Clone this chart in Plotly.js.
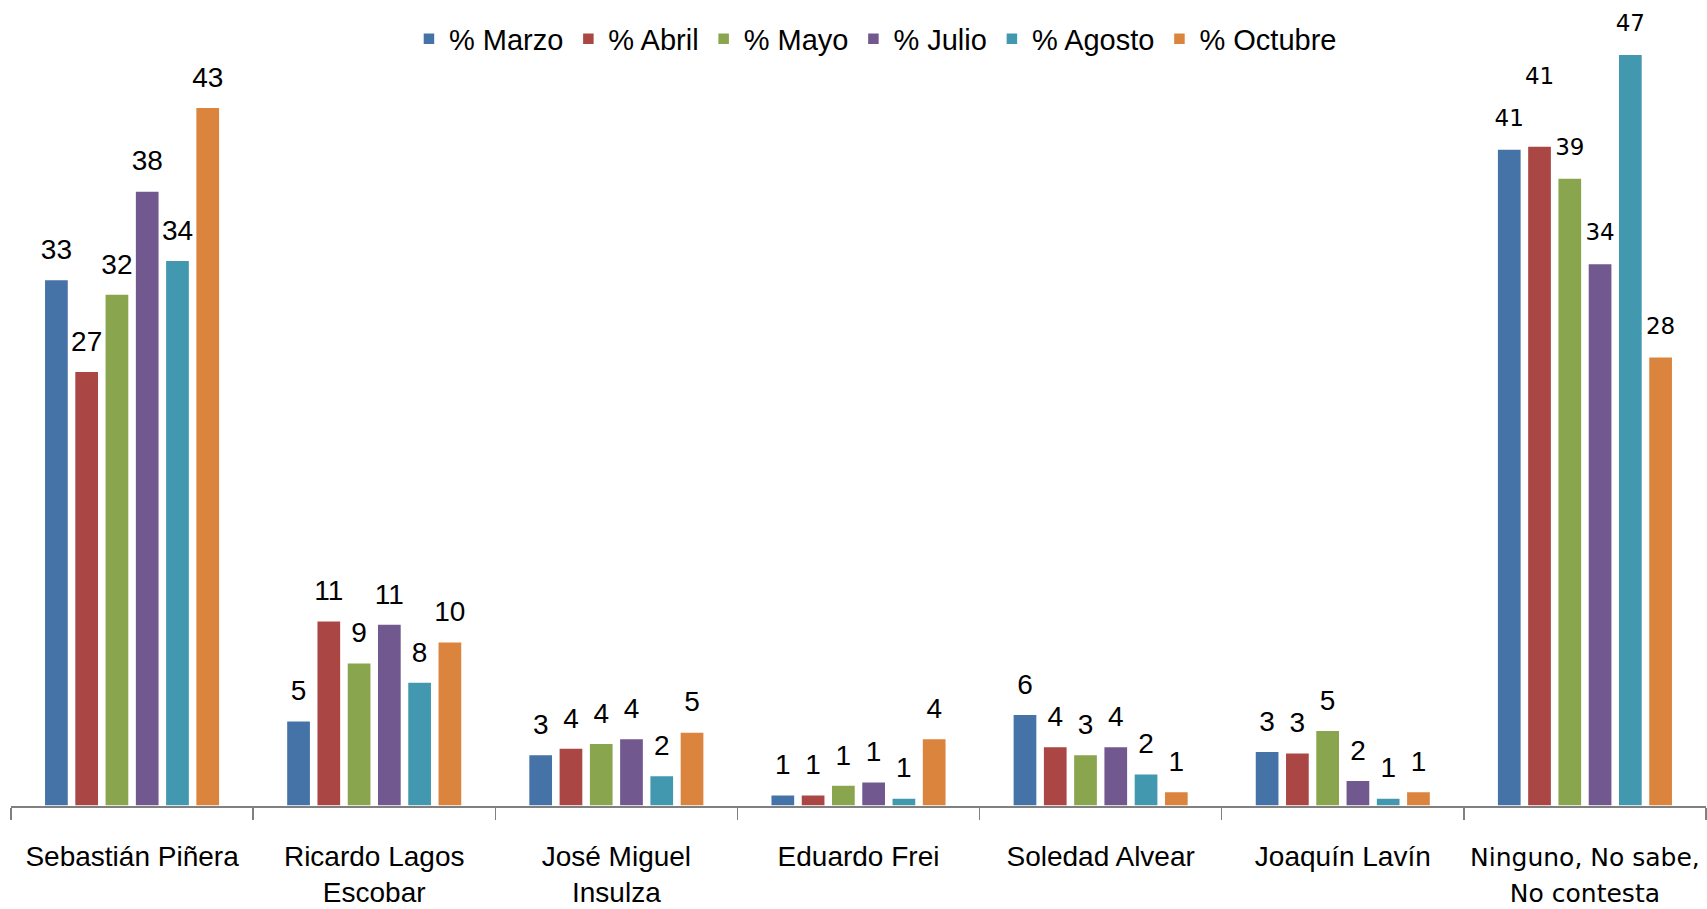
<!DOCTYPE html>
<html><head><meta charset="utf-8">
<script src="https://cdn.plot.ly/plotly-3.0.1.min.js"></script>
<style>html,body{margin:0;padding:0;background:#fff;}#chart{width:1707px;height:909px;}</style>
</head><body><div id="chart"></div>
<script>
const categories = ["Sebastián Piñera", "Ricardo Lagos<br>Escobar", "José Miguel<br>Insulza", "Eduardo Frei", "Soledad Alvear", "Joaquín Lavín", "Ninguno, No sabe,<br>No contesta"];
const seriesNames = ["% Marzo", "% Abril", "% Mayo", "% Julio", "% Agosto", "% Octubre"];
const colors = ["#4572A7", "#AA4643", "#89A54E", "#71588F", "#4198AF", "#DB843D"];
const marzo   = [32.7, 5.3, 3.2, 0.7, 5.7, 3.4, 40.8];
const abril   = [27.0, 11.5, 3.6, 0.7, 3.7, 3.3, 41.0];
const mayo    = [31.8, 8.9, 3.9, 1.3, 3.2, 4.7, 39.0];
const julio   = [38.2, 11.3, 4.2, 1.5, 3.7, 1.6, 33.7];
const agosto  = [33.9, 7.7, 1.9, 0.5, 2.0, 0.5, 46.7];
const octubre = [43.4, 10.2, 4.6, 4.2, 0.9, 0.9, 27.9];
const lblMarzo   = [33, 5, 3, 1, 6, 3, 41];
const lblAbril   = [27, 11, 4, 1, 4, 3, 41];
const lblMayo    = [32, 9, 4, 1, 3, 5, 39];
const lblJulio   = [38, 11, 4, 1, 4, 2, 34];
const lblAgosto  = [34, 8, 2, 1, 2, 1, 47];
const lblOctubre = [43, 10, 5, 4, 1, 1, 28];

const values = [marzo, abril, mayo, julio, agosto, octubre];
const labels = [lblMarzo, lblAbril, lblMayo, lblJulio, lblAgosto, lblOctubre];
const mainFont = "Liberation Sans Narrow, Arial Narrow, sans-serif";
const wideFont = "DejaVu Sans, Verdana, sans-serif";
const last = categories.length - 1;

const barTraces = seriesNames.map((name, i) => ({
  type: "bar",
  name: name,
  x: categories,
  y: values[i],
  marker: {color: colors[i], line: {color: "#ffffff", width: 1.5}},
  hoverinfo: "x+y+name"
}));

// label traces: invisible markers lift the text above each bar
const labelTraces = seriesNames.map((name, i) => ({
  type: "scatter",
  mode: "markers+text",
  name: name + " etiquetas",
  showlegend: false,
  x: categories,
  y: values[i],
  text: labels[i].map(String),
  textposition: "top center",
  cliponaxis: false,
  marker: {
    size: categories.map((c, j) => (i === 1 && j === last) ? 88 : (j === last ? 26 : 20)),
    opacity: 0
  },
  textfont: {
    family: categories.map((c, j) => j === last ? wideFont : mainFont),
    size: categories.map((c, j) => j === last ? 23 : 28),
    color: "#000"
  },
  hoverinfo: "skip"
}));

const layout = {
  width: 1707, height: 909,
  margin: {l: 11, r: 1, t: 1, b: 103},
  paper_bgcolor: "#fff", plot_bgcolor: "#fff",
  barmode: "group",
  scattermode: "group",
  bargap: 0.25,
  bargroupgap: 0.2,
  scattergap: 0.25,
  showlegend: true,
  legend: {
    orientation: "h", x: 0.51, xanchor: "center", y: 0.953, yanchor: "middle",
    font: {family: mainFont, size: 29, color: "#000"},
    itemwidth: 30, bgcolor: "rgba(0,0,0,0)"
  },
  font: {family: mainFont, size: 28, color: "#000"},
  xaxis: {
    type: "category",
    tickson: "boundaries",
    ticks: "outside", ticklen: 12, tickwidth: 1.5, tickcolor: "#808080",
    showline: true, linecolor: "#808080", linewidth: 2,
    showgrid: false,
    tickfont: {family: mainFont, size: 28, color: "#000"},
    ticklabelstandoff: 24,
    tickvals: categories,
    ticktext: categories.map((c, j) => j === last ? '<span style="font-family:DejaVu Sans;font-size:25px">' + c + '</span>' : c)
  },
  yaxis: {
    range: [0, 50], visible: false, showgrid: false, zeroline: false, fixedrange: true
  }
};

Plotly.newPlot("chart", barTraces.concat(labelTraces), layout, {displayModeBar: false, staticPlot: true});
</script>
</body></html>
